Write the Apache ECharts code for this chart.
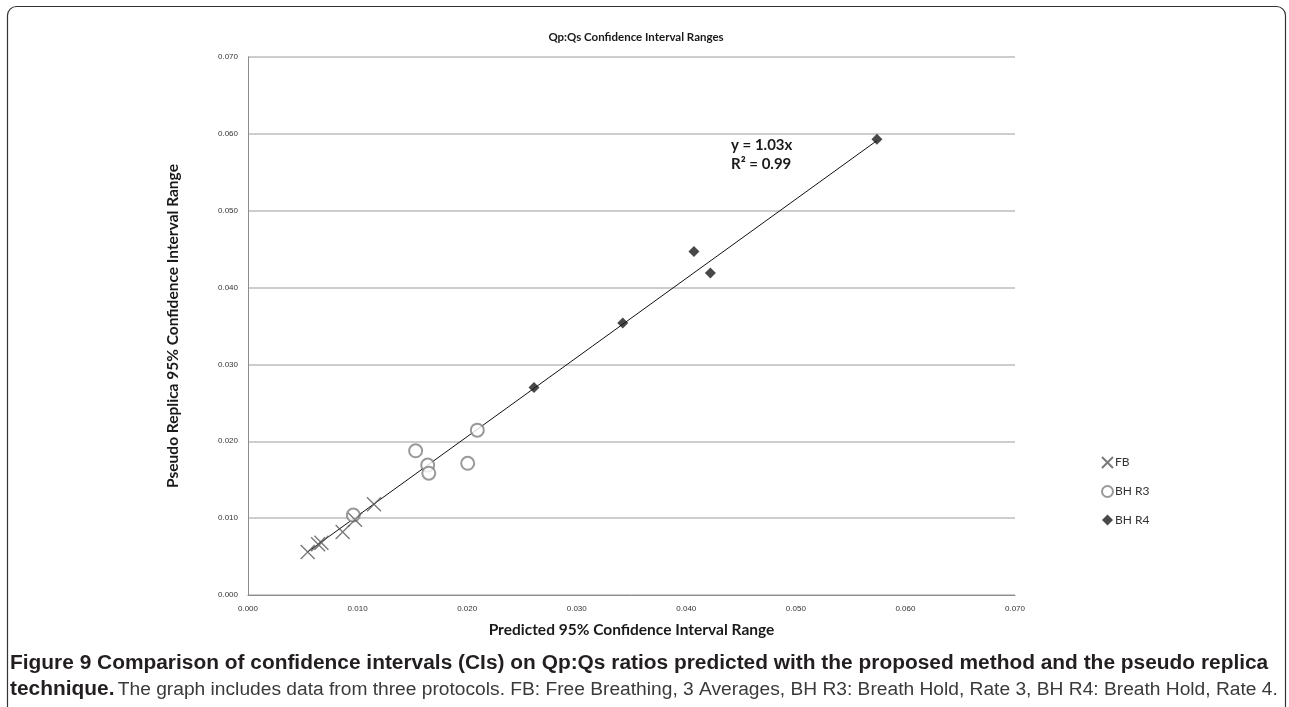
<!DOCTYPE html>
<html>
<head>
<meta charset="utf-8">
<script src="https://cdn.jsdelivr.net/npm/echarts@6/dist/echarts.min.js"></script>
<style>
  html, body { margin: 0; padding: 0; background: #fff; }
  #chart { width: 1289px; height: 707px; }
</style>
</head>
<body>
<div id="chart"></div>
<script>
// Confidence interval ranges: [predicted, pseudo replica]
const fbPoints = [
  [0.00545, 0.0056], [0.0064, 0.0066], [0.0067, 0.0068],
  [0.00864, 0.0082], [0.00977, 0.0098], [0.0115, 0.0118]
];
const bhR3Points = [
  [0.00961, 0.0104], [0.0153, 0.01876], [0.0164, 0.0169],
  [0.0165, 0.01585], [0.02005, 0.01714], [0.02093, 0.02145]
];
const bhR4Points = [
  [0.0261, 0.0270], [0.0342, 0.0354], [0.0407, 0.0447],
  [0.0422, 0.0419], [0.0574, 0.0593]
];
const seriesNames = ['FB', 'BH R3', 'BH R4'];
const fitSlope = 1.03;
const fitR2 = 0.99;
const axisTicks = [0, 0.01, 0.02, 0.03, 0.04, 0.05, 0.06, 0.07];

// Trend line through the origin, spanning the observed predicted-range values
const allX = fbPoints.concat(bhR3Points, bhR4Points).map(p => p[0]);
const xLo = Math.min(...allX), xHi = Math.max(...allX);
const fitLine = [[xLo, fitSlope * xLo], [xHi, fitSlope * xHi]];

const tickFont = '"Liberation Sans Narrow", "Liberation Sans", sans-serif';
const boldFont = 'Lato, "Open Sans", sans-serif';
const captionFont = '"Liberation Sans", Arial, sans-serif';

const chart = echarts.init(document.getElementById('chart'), null, { renderer: 'canvas' });

const axisCommon = {
  type: 'value',
  min: axisTicks[0],
  max: axisTicks[axisTicks.length - 1],
  interval: 0.01,
  axisLine: { show: true, lineStyle: { color: '#8c8c8c', width: 1 } },
  axisTick: { show: false },
  axisLabel: {
    color: '#333', fontSize: 8, fontFamily: tickFont, margin: 10,
    formatter: v => v.toFixed(3)
  },
  nameTextStyle: { color: '#1a1a1a', fontSize: 15.5, fontWeight: 'bold', fontFamily: boldFont }
};

chart.setOption({
  animation: false,
  backgroundColor: '#fff',
  title: {
    text: 'Qp:Qs Confidence Interval Ranges',
    left: 631, top: 26, textAlign: 'center',
    textStyle: { color: '#1a1a1a', fontSize: 11.5, fontWeight: 'bold', fontFamily: boldFont }
  },
  grid: { left: 248, right: 274, top: 57, bottom: 112 },
  xAxis: Object.assign({}, axisCommon, {
    name: 'Predicted 95% Confidence Interval Range',
    nameLocation: 'middle', nameGap: 27,
    splitLine: { show: false }
  }),
  yAxis: Object.assign({}, axisCommon, {
    name: 'Pseudo Replica 95% Confidence Interval Range',
    nameLocation: 'middle', nameGap: 67,
    splitLine: { show: true, lineStyle: { color: '#bdbdbd', width: 1.5 } }
  }),
  legend: {
    orient: 'vertical', left: 1096, top: 451, itemGap: 16,
    itemWidth: 11, itemHeight: 11,
    data: seriesNames,
    textStyle: { color: '#333', fontSize: 12, fontFamily: boldFont, padding: [0, 0, 0, -3] }
  },
  series: [
    {
      name: 'fit', type: 'line', data: fitLine, symbol: 'none', silent: true,
      lineStyle: { color: '#111', width: 1 }, z: 1
    },
    {
      name: seriesNames[0], type: 'scatter', data: fbPoints,
      symbol: 'path://M0,0L10,10M10,0L0,10', symbolSize: 14,
      itemStyle: { color: 'rgba(0,0,0,0)', borderColor: '#595959', borderWidth: 1.4 }, z: 3
    },
    {
      name: seriesNames[1], type: 'scatter', data: bhR3Points,
      symbol: 'circle', symbolSize: 13,
      itemStyle: { color: '#fff', borderColor: '#808080', borderWidth: 2 }, z: 2
    },
    {
      name: seriesNames[2], type: 'scatter', data: bhR4Points,
      symbol: 'diamond', symbolSize: 11,
      itemStyle: { color: '#1a1a1a' }, z: 3
    }
  ],
  graphic: [
    {
      type: 'text', left: 731, top: 136,
      style: {
        text: 'y = ' + fitSlope.toFixed(2) + 'x\nR² = ' + fitR2.toFixed(2),
        fill: '#1a1a1a', font: 'bold 15px ' + boldFont, lineHeight: 19
      }
    },
    {
      type: 'rect', left: 5, top: 4, silent: true,
      shape: { width: 1278, height: 720, r: 9 },
      style: { fill: 'none', stroke: '#333', lineWidth: 1.2 }
    },
    {
      type: 'text', left: 10, top: 653,
      style: {
        text: 'Figure 9 Comparison of confidence intervals (CIs) on Qp:Qs ratios predicted with the proposed method and the pseudo replica',
        fill: '#231f20', font: 'bold 20.9px ' + captionFont
      }
    },
    {
      type: 'text', left: 10, top: 679,
      style: {
        text: '{b|technique.} {r|The graph includes data from three protocols. FB: Free Breathing, 3 Averages, BH R3: Breath Hold, Rate 3, BH R4: Breath Hold, Rate 4.}',
        rich: {
          b: { fill: '#231f20', font: 'bold 20.9px ' + captionFont },
          r: { fill: '#3a3a3a', font: '19.2px ' + captionFont }
        }
      }
    }
  ]
});
</script>
</body>
</html>
